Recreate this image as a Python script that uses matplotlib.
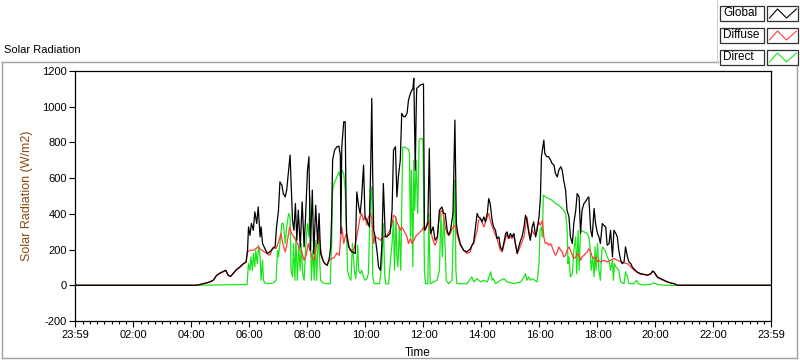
import matplotlib
matplotlib.use("Agg")
import matplotlib.pyplot as plt
from matplotlib.patches import Rectangle
from matplotlib.lines import Line2D
import numpy as np

plt.rcParams['font.family'] = ['Liberation Sans', 'DejaVu Sans']

# ---- data (time in minutes since midnight, W/m2) ----
global_t = [-1, 250, 264, 271, 278, 285, 292, 299, 306, 311, 316, 321, 327, 333, 340, 347, 353, 356, 358, 361, 364, 368, 371, 375, 378, 382, 384, 387, 392, 397, 402, 408, 413, 416, 420, 423, 427, 430, 434, 437, 441, 444, 446, 449, 452, 455, 458, 461, 465, 469, 473, 476, 480, 483, 486, 490, 493, 497, 501, 504, 507, 512, 516, 521, 525, 528, 530, 532, 536, 541, 545, 548, 549, 551, 555, 558, 560, 561, 565, 572, 579, 582, 586, 589, 592, 596, 599, 603, 608, 611, 613, 615, 617, 620, 624, 627, 631, 634, 637, 641, 644, 651, 655, 658, 662, 665, 668, 672, 675, 679, 682, 686, 689, 693, 696, 698, 700, 702, 703, 705, 706, 710, 713, 719, 720, 722, 726, 729, 732, 735, 740, 744, 749, 753, 758, 762, 765, 769, 772, 776, 781, 785, 788, 791, 796, 803, 810, 817, 824, 831, 834, 838, 841, 845, 848, 852, 855, 858, 862, 865, 869, 872, 876, 879, 883, 886, 890, 893, 896, 900, 903, 907, 910, 914, 917, 921, 924, 928, 931, 934, 938, 941, 945, 948, 952, 955, 959, 962, 964, 967, 969, 971, 975, 979, 983, 986, 990, 993, 997, 1000, 1004, 1007, 1010, 1014, 1017, 1021, 1024, 1028, 1031, 1035, 1038, 1042, 1045, 1048, 1052, 1055, 1059, 1062, 1066, 1069, 1073, 1076, 1080, 1083, 1086, 1090, 1093, 1097, 1100, 1104, 1107, 1111, 1114, 1118, 1121, 1124, 1128, 1131, 1135, 1138, 1142, 1145, 1149, 1152, 1155, 1162, 1169, 1176, 1183, 1190, 1194, 1197, 1204, 1211, 1218, 1225, 1232, 1239, 1245, 1439]
global_v = [0, 0, 9, 13, 19, 28, 56, 69, 78, 84, 56, 50, 69, 88, 103, 121, 131, 196, 327, 280, 346, 308, 411, 346, 439, 271, 327, 234, 205, 178, 187, 205, 215, 327, 420, 579, 561, 514, 495, 533, 645, 729, 589, 364, 308, 458, 252, 421, 215, 467, 215, 383, 645, 720, 196, 533, 178, 448, 234, 402, 178, 140, 121, 112, 150, 215, 383, 701, 757, 776, 779, 729, 290, 775, 916, 916, 400, 290, 215, 187, 178, 523, 439, 402, 486, 673, 383, 364, 327, 700, 1046, 600, 308, 271, 187, 103, 84, 234, 570, 271, 271, 290, 421, 757, 776, 495, 607, 701, 963, 944, 944, 963, 1037, 1075, 1093, 1100, 1159, 800, 645, 1000, 1103, 1112, 1121, 1127, 1127, 308, 327, 346, 766, 290, 327, 252, 271, 420, 439, 402, 402, 308, 280, 308, 402, 925, 346, 290, 234, 196, 187, 205, 243, 402, 383, 374, 355, 383, 355, 402, 486, 458, 364, 327, 308, 262, 271, 215, 196, 234, 290, 299, 262, 290, 271, 290, 234, 178, 215, 252, 271, 327, 392, 364, 290, 252, 327, 355, 271, 308, 383, 495, 720, 776, 813, 738, 720, 720, 701, 682, 673, 626, 607, 645, 664, 645, 589, 533, 420, 383, 271, 234, 346, 420, 514, 495, 290, 420, 458, 467, 486, 495, 308, 271, 430, 346, 290, 271, 234, 346, 336, 327, 224, 234, 308, 159, 308, 290, 271, 196, 140, 121, 131, 215, 159, 131, 121, 103, 93, 75, 65, 62, 56, 65, 80, 75, 47, 37, 28, 19, 13, 9, 0, 0]

diffuse_t = [-1, 250, 264, 271, 278, 285, 292, 299, 306, 311, 316, 321, 327, 333, 340, 347, 353, 356, 361, 368, 373, 378, 383, 389, 396, 402, 409, 415, 420, 425, 429, 434, 437, 443, 447, 452, 456, 461, 465, 468, 473, 477, 482, 485, 489, 494, 498, 503, 506, 510, 513, 520, 525, 530, 535, 541, 546, 548, 551, 555, 558, 561, 568, 575, 582, 589, 592, 596, 599, 603, 606, 610, 613, 617, 620, 627, 631, 637, 644, 651, 655, 658, 662, 665, 668, 672, 675, 679, 686, 689, 693, 696, 700, 703, 706, 710, 713, 717, 720, 724, 727, 731, 734, 738, 741, 744, 748, 751, 755, 758, 762, 765, 769, 772, 776, 779, 782, 786, 789, 793, 796, 803, 810, 817, 820, 824, 831, 834, 838, 845, 852, 855, 858, 865, 872, 879, 883, 886, 893, 896, 900, 903, 907, 914, 917, 921, 928, 931, 934, 938, 941, 945, 948, 952, 955, 959, 962, 966, 969, 972, 976, 979, 983, 986, 990, 993, 997, 1000, 1004, 1007, 1010, 1014, 1017, 1021, 1024, 1028, 1031, 1035, 1038, 1042, 1045, 1048, 1052, 1055, 1059, 1062, 1066, 1069, 1073, 1076, 1080, 1083, 1086, 1093, 1100, 1107, 1114, 1121, 1128, 1135, 1142, 1149, 1156, 1162, 1169, 1176, 1183, 1190, 1194, 1197, 1204, 1211, 1218, 1225, 1232, 1239, 1245, 1439]
diffuse_v = [0, 0, 9, 13, 19, 28, 54, 67, 76, 82, 55, 49, 67, 86, 100, 118, 128, 187, 196, 196, 205, 215, 200, 190, 178, 168, 215, 205, 243, 290, 234, 187, 224, 327, 290, 271, 252, 224, 196, 187, 140, 168, 234, 196, 159, 140, 215, 290, 234, 159, 131, 112, 140, 150, 154, 181, 168, 250, 327, 234, 271, 290, 196, 187, 271, 383, 402, 364, 383, 336, 383, 402, 374, 234, 271, 262, 252, 271, 280, 308, 346, 392, 383, 355, 336, 308, 327, 308, 271, 234, 262, 234, 252, 271, 280, 290, 299, 308, 327, 308, 346, 355, 308, 271, 243, 224, 252, 346, 411, 420, 383, 327, 290, 280, 290, 318, 327, 336, 290, 252, 224, 196, 178, 187, 224, 234, 308, 364, 374, 327, 383, 402, 364, 308, 262, 196, 187, 224, 290, 262, 271, 262, 280, 178, 196, 224, 271, 327, 383, 308, 271, 308, 290, 280, 327, 355, 336, 364, 271, 234, 238, 224, 234, 215, 187, 168, 187, 215, 196, 187, 159, 168, 196, 215, 196, 168, 150, 159, 178, 168, 140, 159, 168, 178, 187, 205, 187, 159, 150, 159, 131, 140, 131, 140, 131, 140, 150, 140, 131, 125, 121, 103, 84, 72, 62, 60, 56, 62, 75, 72, 43, 34, 25, 17, 12, 8, 0, 0]

direct_t = [-1, 250, 290, 340, 355, 356, 358, 361, 363, 366, 368, 371, 373, 376, 379, 382, 384, 387, 389, 392, 399, 409, 415, 418, 420, 423, 427, 430, 434, 437, 441, 444, 446, 449, 451, 454, 456, 459, 462, 465, 467, 470, 473, 476, 480, 483, 485, 488, 491, 494, 496, 499, 502, 505, 507, 512, 520, 527, 530, 532, 535, 541, 545, 548, 551, 555, 558, 560, 563, 566, 570, 573, 577, 580, 584, 586, 589, 592, 596, 599, 603, 606, 610, 613, 615, 618, 629, 634, 637, 640, 642, 648, 651, 655, 658, 660, 663, 665, 667, 670, 673, 677, 682, 689, 691, 693, 695, 698, 700, 702, 705, 708, 711, 713, 717, 719, 722, 724, 729, 731, 734, 748, 753, 756, 759, 762, 765, 767, 772, 779, 782, 785, 787, 789, 810, 820, 824, 831, 838, 845, 852, 859, 862, 865, 869, 879, 886, 893, 907, 921, 928, 931, 934, 938, 941, 945, 955, 959, 961, 964, 966, 968, 972, 979, 986, 993, 1000, 1007, 1010, 1014, 1017, 1019, 1021, 1024, 1028, 1031, 1035, 1037, 1040, 1042, 1045, 1052, 1059, 1062, 1064, 1067, 1070, 1073, 1075, 1077, 1080, 1083, 1086, 1089, 1091, 1097, 1100, 1104, 1107, 1111, 1113, 1115, 1118, 1124, 1128, 1135, 1138, 1142, 1145, 1155, 1161, 1164, 1169, 1176, 1190, 1197, 1204, 1218, 1439]
direct_v = [0, 0, 2, 4, 4, 47, 121, 84, 159, 84, 178, 103, 196, 121, 224, 159, 28, 140, 28, 13, 9, 13, 28, 196, 159, 234, 346, 346, 234, 327, 402, 383, 84, 47, 234, 28, 271, 28, 215, 84, 234, 65, 28, 196, 346, 271, 495, 28, 196, 28, 252, 28, 280, 159, 28, 13, 9, 9, 234, 533, 570, 607, 635, 607, 645, 626, 533, 364, 84, 47, 28, 234, 84, 37, 224, 84, 65, 84, 47, 28, 37, 65, 458, 551, 47, 9, 9, 121, 346, 47, 9, 9, 121, 234, 364, 84, 383, 159, 103, 327, 84, 773, 773, 760, 738, 271, 645, 103, 701, 420, 701, 402, 813, 822, 822, 804, 84, 9, 9, 402, 9, 28, 84, 402, 159, 383, 196, 28, 9, 28, 308, 589, 84, 9, 9, 47, 19, 37, 19, 28, 19, 75, 28, 37, 9, 28, 37, 19, 9, 19, 47, 65, 28, 47, 28, 37, 19, 121, 308, 327, 271, 505, 495, 486, 476, 458, 448, 430, 420, 402, 327, 121, 159, 47, 65, 196, 271, 65, 308, 84, 308, 299, 290, 271, 234, 84, 159, 47, 215, 84, 234, 84, 28, 196, 215, 187, 159, 140, 84, 140, 28, 121, 103, 84, 19, 9, 75, 47, 9, 9, 28, 9, 5, 2, 5, 14, 5, 0, 0]

series_names = ["Global", "Diffuse", "Direct"]
series_colors = ["#000000", "#ff3b3b", "#19e619"]

xtick_pos = [-1, 120, 240, 360, 480, 600, 720, 840, 960, 1080, 1200, 1320, 1439]
xtick_labels = ["23:59", "02:00", "04:00", "06:00", "08:00", "10:00", "12:00",
                "14:00", "16:00", "18:00", "20:00", "22:00", "23:59"]
ytick_pos = [-200, 0, 200, 400, 600, 800, 1000, 1200]

W, H = 800, 361
fig = plt.figure(figsize=(W / 100, H / 100), dpi=100)
fig.patch.set_facecolor("white")

def fx(x):
    return x / W

def fy(y):
    return 1 - y / H

# outer frame
frame_col = "#a0a0a0"
fig.add_artist(Line2D([fx(2), fx(718)], [fy(62), fy(62)], color=frame_col, lw=1.0))
fig.add_artist(Line2D([fx(2), fx(2)], [fy(62), fy(358)], color=frame_col, lw=1.0))
fig.add_artist(Line2D([fx(2), fx(797)], [fy(358), fy(358)], color=frame_col, lw=1.0))
fig.add_artist(Line2D([fx(797), fx(797)], [fy(66), fy(358)], color=frame_col, lw=1.0))
fig.add_artist(Line2D([fx(717), fx(717)], [fy(0), fy(62)], color="#d0d0d0", lw=0.8))

fig.text(fx(4), fy(50), "Solar Radiation", fontsize=8, ha="left", va="center", color="#000000")

ax = fig.add_axes([fx(75), fy(321), (771 - 75) / W, (321 - 71) / H])
ax.set_facecolor("white")

ax.plot(direct_t, direct_v, color=series_colors[2], lw=0.9, zorder=1)
ax.plot(diffuse_t, diffuse_v, color=series_colors[1], lw=0.9, zorder=2)
ax.plot(global_t, global_v, color=series_colors[0], lw=0.9, zorder=3)

ax.set_xlim(-1, 1439)
ax.set_ylim(-200, 1200)
ax.set_xticks(xtick_pos)
ax.set_xticklabels(xtick_labels)
minor = [m for m in range(15, 1439, 15) if m % 120 != 0]
ax.set_xticks(minor, minor=True)
ax.set_yticks(ytick_pos)
ax.set_yticklabels([str(v) for v in ytick_pos])

ax.tick_params(axis="x", which="major", direction="out", length=4, width=0.8, labelsize=8, pad=2.5)
ax.tick_params(axis="x", which="minor", direction="out", length=2.5, width=0.8)
ax.tick_params(axis="y", which="major", direction="out", length=4.5, width=0.8, labelsize=8, pad=1.5)
for s in ax.spines.values():
    s.set_color("#000000")
    s.set_linewidth(0.9)

ax.set_ylabel("Solar Radiation (W/m2)", fontsize=9, color="#8a4a10")
ax.yaxis.set_label_coords(-0.060, 0.5)
ax.set_xlabel("Time", fontsize=8.5, va="center")
ax.xaxis.set_label_coords(0.493, -0.126)

# legend (LabVIEW style plot legend)
rows = [(6, 21), (28, 43), (50, 65)]
for (y0, y1), name, col in zip(rows, series_names, series_colors):
    fig.add_artist(Rectangle((fx(720), fy(y1)), (764 - 720) / W, (y1 - y0) / H,
                             facecolor="white", edgecolor="#303030", lw=0.9))
    fig.text(fx(723), fy((y0 + y1) / 2), name, fontsize=8.5, ha="left", va="center")
    fig.add_artist(Rectangle((fx(767), fy(y1)), (798 - 767) / W, (y1 - y0) / H,
                             facecolor="white", edgecolor="#303030", lw=0.9))
    zx = [769.5, 777.5, 786.5, 796.5]
    zy = [y1 - 3, y0 + 3, y1 - 3, y0 + 3]
    fig.add_artist(Line2D([fx(v) for v in zx], [fy(v) for v in zy], color=col, lw=0.8))

fig.savefig("out.png", dpi=100, facecolor="white")
